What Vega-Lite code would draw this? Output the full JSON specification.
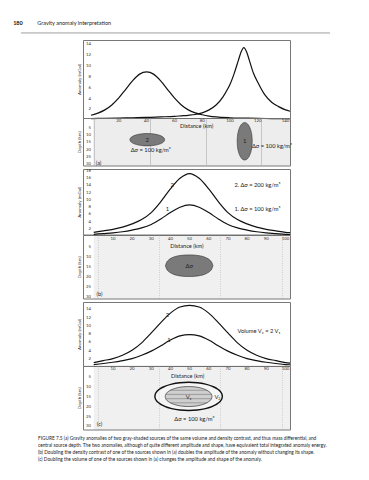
{
  "$schema": "https://vega.github.io/schema/vega-lite/v6.json",
  "padding": {"left": 12, "top": 20, "right": 5, "bottom": 5},
  "background": "white",
  "config": {
    "font": "Lato",
    "view": {"stroke": "#777", "strokeWidth": 1},
    "axis": {"labelFont": "Lato", "titleFont": "Lato", "titleColor": "#333", "titleFontSize": 4.5, "titleFontWeight": "normal", "domain": false, "ticks": false, "grid": false, "labels": false},
    "text": {"font": "Lato", "color": "#222"},
    "title": {"font": "Lato"}
  },
  "title": {
    "text": [
      "FIGURE 7.5  (a) Gravity anomalies of two gray-shaded sources of the same volume and density contrast, and thus mass differential, and",
      "central source depth. The two anomalies, although of quite different amplitude and shape, have equivalent total integrated anomaly energy.",
      "(b) Doubling the density contrast of one of the sources shown in (a) doubles the amplitude of the anomaly without changing its shape.",
      "(c) Doubling the volume of one of the sources shown in (a) changes the amplitude and shape of the anomaly."
    ],
    "orient": "bottom", "anchor": "start", "frame": "group", "fontSize": 4.75, "fontWeight": "normal", "color": "#222", "lineHeight": 7, "offset": 6, "dx": -45
  },
  "datasets": {
    "header": [
      {"x": -56, "y": 17.9, "text": "180", "part": "number"},
      {"x": -38.6, "y": 17.9, "text": "Gravity anomaly interpretation", "part": "title"}
    ],
    "headerRule": [{"x": -50.4, "x2": 172, "y": 16.1}],
    "ticksAnomA": [{"v": 2}, {"v": 4}, {"v": 6}, {"v": 8}, {"v": 10}, {"v": 12}, {"v": 14}],
    "ticksAnomB": [{"v": 2}, {"v": 4}, {"v": 6}, {"v": 8}, {"v": 10}, {"v": 12}, {"v": 14}, {"v": 16}, {"v": 18}],
    "ticksDepth": [{"v": 5}, {"v": 10}, {"v": 15}, {"v": 20}, {"v": 25}, {"v": 30}],
    "ticksDistA": [{"v": 20}, {"v": 40}, {"v": 60}, {"v": 80}, {"v": 100}, {"v": 120}, {"v": 140}],
    "ticksDistB": [{"v": 10}, {"v": 20}, {"v": 30}, {"v": 40}, {"v": 50}, {"v": 60}, {"v": 70}, {"v": 80}, {"v": 90}, {"v": 100}],
    "curvesA": [
      {"body": "1", "x": 0, "g": 0.3}, {"body": "1", "x": 10, "g": 0.35}, {"body": "1", "x": 20, "g": 0.4}, {"body": "1", "x": 30, "g": 0.45}, {"body": "1", "x": 40, "g": 0.5}, {"body": "1", "x": 50, "g": 0.6}, {"body": "1", "x": 60, "g": 0.7}, {"body": "1", "x": 65, "g": 0.8}, {"body": "1", "x": 70, "g": 0.9}, {"body": "1", "x": 75, "g": 1.05}, {"body": "1", "x": 80, "g": 1.35}, {"body": "1", "x": 85, "g": 1.9}, {"body": "1", "x": 90, "g": 2.8}, {"body": "1", "x": 95, "g": 4.3}, {"body": "1", "x": 98, "g": 5.6}, {"body": "1", "x": 100, "g": 6.6}, {"body": "1", "x": 103, "g": 8.6}, {"body": "1", "x": 106, "g": 11.0}, {"body": "1", "x": 108, "g": 12.6}, {"body": "1", "x": 110, "g": 13.4}, {"body": "1", "x": 112, "g": 12.6}, {"body": "1", "x": 114, "g": 11.0}, {"body": "1", "x": 117, "g": 8.6}, {"body": "1", "x": 120, "g": 7.0}, {"body": "1", "x": 125, "g": 4.7}, {"body": "1", "x": 130, "g": 3.3}, {"body": "1", "x": 135, "g": 2.5}, {"body": "1", "x": 140, "g": 1.9}, {"body": "1", "x": 143.2, "g": 1.65},
      {"body": "2", "x": 0, "g": 0.9}, {"body": "2", "x": 5, "g": 1.3}, {"body": "2", "x": 10, "g": 1.9}, {"body": "2", "x": 15, "g": 2.8}, {"body": "2", "x": 20, "g": 4.1}, {"body": "2", "x": 25, "g": 5.7}, {"body": "2", "x": 30, "g": 7.3}, {"body": "2", "x": 35, "g": 8.5}, {"body": "2", "x": 40, "g": 8.9}, {"body": "2", "x": 45, "g": 8.5}, {"body": "2", "x": 50, "g": 7.3}, {"body": "2", "x": 55, "g": 5.7}, {"body": "2", "x": 60, "g": 4.1}, {"body": "2", "x": 65, "g": 2.8}, {"body": "2", "x": 70, "g": 1.9}, {"body": "2", "x": 75, "g": 1.35}, {"body": "2", "x": 80, "g": 1.0}, {"body": "2", "x": 85, "g": 0.75}, {"body": "2", "x": 90, "g": 0.6}, {"body": "2", "x": 100, "g": 0.45}, {"body": "2", "x": 110, "g": 0.38}, {"body": "2", "x": 120, "g": 0.33}, {"body": "2", "x": 130, "g": 0.3}, {"body": "2", "x": 143.2, "g": 0.27}
    ],
    "curvesB": [
      {"body": "2", "x": 0, "g": 1.1}, {"body": "2", "x": 5, "g": 1.5}, {"body": "2", "x": 10, "g": 1.9}, {"body": "2", "x": 15, "g": 2.5}, {"body": "2", "x": 20, "g": 3.4}, {"body": "2", "x": 25, "g": 4.6}, {"body": "2", "x": 30, "g": 6.5}, {"body": "2", "x": 35, "g": 9.5}, {"body": "2", "x": 40, "g": 13.0}, {"body": "2", "x": 45, "g": 15.9}, {"body": "2", "x": 50, "g": 17.2}, {"body": "2", "x": 55, "g": 15.9}, {"body": "2", "x": 60, "g": 13.0}, {"body": "2", "x": 65, "g": 9.5}, {"body": "2", "x": 70, "g": 6.5}, {"body": "2", "x": 75, "g": 4.6}, {"body": "2", "x": 80, "g": 3.4}, {"body": "2", "x": 85, "g": 2.5}, {"body": "2", "x": 90, "g": 1.9}, {"body": "2", "x": 95, "g": 1.5}, {"body": "2", "x": 100, "g": 1.1}, {"body": "2", "x": 102.4, "g": 1.0},
      {"body": "1", "x": 0, "g": 0.55}, {"body": "1", "x": 5, "g": 0.75}, {"body": "1", "x": 10, "g": 0.95}, {"body": "1", "x": 15, "g": 1.25}, {"body": "1", "x": 20, "g": 1.7}, {"body": "1", "x": 25, "g": 2.3}, {"body": "1", "x": 30, "g": 3.25}, {"body": "1", "x": 35, "g": 4.75}, {"body": "1", "x": 40, "g": 6.5}, {"body": "1", "x": 45, "g": 7.95}, {"body": "1", "x": 50, "g": 8.6}, {"body": "1", "x": 55, "g": 7.95}, {"body": "1", "x": 60, "g": 6.5}, {"body": "1", "x": 65, "g": 4.75}, {"body": "1", "x": 70, "g": 3.25}, {"body": "1", "x": 75, "g": 2.3}, {"body": "1", "x": 80, "g": 1.7}, {"body": "1", "x": 85, "g": 1.25}, {"body": "1", "x": 90, "g": 0.95}, {"body": "1", "x": 95, "g": 0.75}, {"body": "1", "x": 100, "g": 0.55}, {"body": "1", "x": 102.4, "g": 0.5}
    ],
    "curvesC": [
      {"body": "2", "x": 0, "g": 1.1}, {"body": "2", "x": 5, "g": 1.6}, {"body": "2", "x": 10, "g": 2.1}, {"body": "2", "x": 15, "g": 2.9}, {"body": "2", "x": 20, "g": 4.1}, {"body": "2", "x": 25, "g": 5.9}, {"body": "2", "x": 30, "g": 8.3}, {"body": "2", "x": 35, "g": 10.8}, {"body": "2", "x": 40, "g": 13.1}, {"body": "2", "x": 45, "g": 14.6}, {"body": "2", "x": 50, "g": 15.0}, {"body": "2", "x": 55, "g": 14.6}, {"body": "2", "x": 60, "g": 13.1}, {"body": "2", "x": 65, "g": 10.8}, {"body": "2", "x": 70, "g": 8.3}, {"body": "2", "x": 75, "g": 5.9}, {"body": "2", "x": 80, "g": 4.1}, {"body": "2", "x": 85, "g": 2.9}, {"body": "2", "x": 90, "g": 2.1}, {"body": "2", "x": 95, "g": 1.6}, {"body": "2", "x": 100, "g": 1.1}, {"body": "2", "x": 102.4, "g": 1.0},
      {"body": "1", "x": 0, "g": 0.65}, {"body": "1", "x": 5, "g": 0.9}, {"body": "1", "x": 10, "g": 1.2}, {"body": "1", "x": 15, "g": 1.6}, {"body": "1", "x": 20, "g": 2.1}, {"body": "1", "x": 25, "g": 2.9}, {"body": "1", "x": 30, "g": 3.9}, {"body": "1", "x": 35, "g": 5.2}, {"body": "1", "x": 40, "g": 6.6}, {"body": "1", "x": 45, "g": 7.6}, {"body": "1", "x": 50, "g": 7.9}, {"body": "1", "x": 55, "g": 7.6}, {"body": "1", "x": 60, "g": 6.6}, {"body": "1", "x": 65, "g": 5.2}, {"body": "1", "x": 70, "g": 3.9}, {"body": "1", "x": 75, "g": 2.9}, {"body": "1", "x": 80, "g": 2.1}, {"body": "1", "x": 85, "g": 1.6}, {"body": "1", "x": 90, "g": 1.2}, {"body": "1", "x": 95, "g": 0.9}, {"body": "1", "x": 100, "g": 0.65}, {"body": "1", "x": 102.4, "g": 0.6}
    ],
    "bgA": [{"x": 1.5, "x2": 143.2, "y": -1.94, "y2": 31}],
    "bgB": [{"x": 0, "x2": 102.4, "y": -0.75, "y2": 31}],
    "bgC": [{"x": 0, "x2": 102.4, "y": -0.77, "y2": 31.6}],
    "bodiesA": [
      {"body": "1", "x": 105.2, "top": 14.2, "bottom": 14.2}, {"body": "1", "x": 105.25, "top": 12.5, "bottom": 15.9}, {"body": "1", "x": 105.38, "top": 10.83, "bottom": 17.57}, {"body": "1", "x": 105.92, "top": 7.7, "bottom": 20.7}, {"body": "1", "x": 106.78, "top": 5.01, "bottom": 23.39}, {"body": "1", "x": 107.9, "top": 2.94, "bottom": 25.46}, {"body": "1", "x": 109.2, "top": 1.64, "bottom": 26.76}, {"body": "1", "x": 110.6, "top": 1.2, "bottom": 27.2}, {"body": "1", "x": 112.0, "top": 1.64, "bottom": 26.76}, {"body": "1", "x": 113.3, "top": 2.94, "bottom": 25.46}, {"body": "1", "x": 114.42, "top": 5.01, "bottom": 23.39}, {"body": "1", "x": 115.28, "top": 7.7, "bottom": 20.7}, {"body": "1", "x": 115.82, "top": 10.83, "bottom": 17.57}, {"body": "1", "x": 115.95, "top": 12.5, "bottom": 15.9}, {"body": "1", "x": 116.0, "top": 14.2, "bottom": 14.2},
      {"body": "2", "x": 28, "top": 13.1, "bottom": 13.1}, {"body": "2", "x": 28.12, "top": 12.54, "bottom": 13.66}, {"body": "2", "x": 28.43, "top": 11.99, "bottom": 14.21}, {"body": "2", "x": 29.67, "top": 10.95, "bottom": 15.25}, {"body": "2", "x": 31.66, "top": 10.06, "bottom": 16.14}, {"body": "2", "x": 34.25, "top": 9.38, "bottom": 16.82}, {"body": "2", "x": 37.26, "top": 8.95, "bottom": 17.25}, {"body": "2", "x": 40.5, "top": 8.8, "bottom": 17.4}, {"body": "2", "x": 43.74, "top": 8.95, "bottom": 17.25}, {"body": "2", "x": 46.75, "top": 9.38, "bottom": 16.82}, {"body": "2", "x": 49.34, "top": 10.06, "bottom": 16.14}, {"body": "2", "x": 51.33, "top": 10.95, "bottom": 15.25}, {"body": "2", "x": 52.57, "top": 11.99, "bottom": 14.21}, {"body": "2", "x": 52.88, "top": 12.54, "bottom": 13.66}, {"body": "2", "x": 53, "top": 13.1, "bottom": 13.1}
    ],
    "bodyB": [
      {"x": 37.4, "top": 14.6, "bottom": 14.6}, {"x": 38, "top": 13.0, "bottom": 16.2}, {"x": 39, "top": 11.8, "bottom": 17.4}, {"x": 40.5, "top": 10.8, "bottom": 18.4}, {"x": 42.5, "top": 10.0, "bottom": 19.2}, {"x": 45, "top": 9.5, "bottom": 19.7}, {"x": 47.5, "top": 9.25, "bottom": 19.95}, {"x": 49.8, "top": 9.2, "bottom": 20.0}, {"x": 52, "top": 9.25, "bottom": 19.95}, {"x": 54.5, "top": 9.5, "bottom": 19.7}, {"x": 57, "top": 10.0, "bottom": 19.2}, {"x": 59, "top": 10.8, "bottom": 18.4}, {"x": 60.6, "top": 11.8, "bottom": 17.4}, {"x": 61.6, "top": 13.0, "bottom": 16.2}, {"x": 62.2, "top": 14.6, "bottom": 14.6}
    ],
    "bodiesC": [
      {"body": "V2", "x": 31.9, "top": 14.7, "bottom": 14.7}, {"body": "V2", "x": 32.06, "top": 13.76, "bottom": 15.64}, {"body": "V2", "x": 32.5, "top": 12.84, "bottom": 16.56}, {"body": "V2", "x": 34.26, "top": 11.1, "bottom": 18.3}, {"body": "V2", "x": 37.06, "top": 9.61, "bottom": 19.79}, {"body": "V2", "x": 40.7, "top": 8.46, "bottom": 20.94}, {"body": "V2", "x": 44.94, "top": 7.74, "bottom": 21.66}, {"body": "V2", "x": 49.5, "top": 7.5, "bottom": 21.9}, {"body": "V2", "x": 54.06, "top": 7.74, "bottom": 21.66}, {"body": "V2", "x": 58.3, "top": 8.46, "bottom": 20.94}, {"body": "V2", "x": 61.94, "top": 9.61, "bottom": 19.79}, {"body": "V2", "x": 64.74, "top": 11.1, "bottom": 18.3}, {"body": "V2", "x": 66.5, "top": 12.84, "bottom": 16.56}, {"body": "V2", "x": 66.94, "top": 13.76, "bottom": 15.64}, {"body": "V2", "x": 67.1, "top": 14.7, "bottom": 14.7},
      {"body": "V1", "x": 37.3, "top": 14.8, "bottom": 14.8}, {"body": "V1", "x": 37.41, "top": 14.13, "bottom": 15.47}, {"body": "V1", "x": 37.71, "top": 13.48, "bottom": 16.12}, {"body": "V1", "x": 38.93, "top": 12.25, "bottom": 17.35}, {"body": "V1", "x": 40.87, "top": 11.19, "bottom": 18.41}, {"body": "V1", "x": 43.4, "top": 10.38, "bottom": 19.22}, {"body": "V1", "x": 46.34, "top": 9.87, "bottom": 19.73}, {"body": "V1", "x": 49.5, "top": 9.7, "bottom": 19.9}, {"body": "V1", "x": 52.66, "top": 9.87, "bottom": 19.73}, {"body": "V1", "x": 55.6, "top": 10.38, "bottom": 19.22}, {"body": "V1", "x": 58.13, "top": 11.19, "bottom": 18.41}, {"body": "V1", "x": 60.07, "top": 12.25, "bottom": 17.35}, {"body": "V1", "x": 61.29, "top": 13.48, "bottom": 16.12}, {"body": "V1", "x": 61.59, "top": 14.13, "bottom": 15.47}, {"body": "V1", "x": 61.7, "top": 14.8, "bottom": 14.8}
    ],
    "hatchC": [
      {"x": 40, "x2": 59, "y": 11.6}, {"x": 37.6, "x2": 61.4, "y": 13.7}, {"x": 37.6, "x2": 61.4, "y": 15.9}, {"x": 40, "x2": 59, "y": 18.0}
    ],
    "anomLabelsB": [
      {"x": 40.9, "y": 14.0, "text": "2", "kind": "num"},
      {"x": 38.5, "y": 7.4, "text": "1", "kind": "num"},
      {"x": 85.4, "y": 14.0, "text": "2.  Δσ = 200 kg/m³", "kind": "note"},
      {"x": 85.4, "y": 7.5, "text": "1.  Δσ = 100 kg/m³", "kind": "note"}
    ],
    "anomLabelsC": [
      {"x": 38.4, "y": 12.6, "text": "2", "kind": "num"},
      {"x": 39.3, "y": 6.7, "text": "1", "kind": "num"},
      {"x": 86.2, "y": 8.75, "text": "Volume V₂ = 2 V₁", "kind": "note"}
    ],
    "depthLabelsA": [
      {"x": 76, "y": 3.9, "text": "Distance (km)", "kind": "axis"},
      {"x": 40.5, "y": 13.3, "text": "2", "kind": "big"},
      {"x": 110.6, "y": 14.2, "text": "1", "kind": "big"},
      {"x": 43, "y": 20.2, "text": "Δσ = 100 kg/m³", "kind": "note"},
      {"x": 130.2, "y": 17.4, "text": "Δσ = 100 kg/m³", "kind": "note"},
      {"x": 5.4, "y": 29, "text": "(a)", "kind": "panel"}
    ],
    "depthLabelsB": [
      {"x": 48.6, "y": 4.5, "text": "Distance (km)", "kind": "axis"},
      {"x": 49.8, "y": 14.8, "text": "Δσ", "kind": "num"},
      {"x": 3.0, "y": 28.8, "text": "(b)", "kind": "panel"}
    ],
    "depthLabelsC": [
      {"x": 49, "y": 4.1, "text": "Distance (km)", "kind": "axis"},
      {"x": 49.5, "y": 15.2, "text": "V₁", "kind": "num"},
      {"x": 64.5, "y": 14.8, "text": "V₂", "kind": "num"},
      {"x": 52.5, "y": 26.5, "text": "Δσ = 100 kg/m³", "kind": "note"},
      {"x": 3.0, "y": 29.0, "text": "(c)", "kind": "panel"}
    ]
  },
  "spacing": 1,
  "vconcat": [
    {
      "spacing": 0,
      "bounds": "flush",
      "vconcat": [
        {
          "width": 207, "height": 78,
          "layer": [
            {
              "data": {"name": "curvesA"},
              "mark": {"type": "line", "color": "#111", "strokeWidth": 1.2, "interpolate": "monotone"},
              "encoding": {
                "x": {"field": "x", "type": "quantitative", "scale": {"domain": [-5.75, 143.2], "nice": false, "zero": false}, "axis": null},
                "y": {"field": "g", "type": "quantitative", "scale": {"domain": [0.4, 14.8], "nice": false, "zero": false},
                      "axis": {"title": "Anomaly (mGal)", "values": [2, 4, 6, 8, 10, 12, 14], "titleX": -4, "titleY": 39, "titleAngle": 270, "titleAlign": "center", "titleBaseline": "middle"}},
                "detail": {"field": "body", "type": "nominal"}
              }
            },
            {
              "data": {"name": "ticksAnomA"},
              "mark": {"type": "text", "align": "right", "baseline": "middle", "fontSize": 4.3, "color": "#333"},
              "encoding": {"x": {"datum": 0}, "y": {"field": "v", "type": "quantitative"}, "text": {"field": "v", "type": "quantitative"}}
            },
            {
              "data": {"name": "headerRule"},
              "mark": {"type": "rule", "color": "#888", "strokeWidth": 0.8},
              "encoding": {"x": {"field": "x", "type": "quantitative"}, "x2": {"field": "x2"}, "y": {"field": "y", "type": "quantitative"}}
            },
            {
              "data": {"name": "header"},
              "transform": [{"filter": "datum.part == 'number'"}],
              "mark": {"type": "text", "align": "left", "baseline": "middle", "fontSize": 5.5, "fontWeight": "bold", "color": "#111"},
              "encoding": {"x": {"field": "x", "type": "quantitative"}, "y": {"field": "y", "type": "quantitative"}, "text": {"field": "text"}}
            },
            {
              "data": {"name": "header"},
              "transform": [{"filter": "datum.part == 'title'"}],
              "mark": {"type": "text", "align": "left", "baseline": "middle", "fontSize": 5.5, "color": "#222"},
              "encoding": {"x": {"field": "x", "type": "quantitative"}, "y": {"field": "y", "type": "quantitative"}, "text": {"field": "text"}}
            }
          ]
        },
        {
          "width": 207, "height": 47.5,
          "layer": [
            {
              "data": {"name": "bgA"},
              "mark": {"type": "rect", "fill": "#000", "fillOpacity": 0.07},
              "encoding": {
                "x": {"field": "x", "type": "quantitative", "scale": {"domain": [-5.75, 143.2], "nice": false, "zero": false},
                      "axis": {"orient": "top", "title": null, "values": [2.5,5,7.5,10,12.5,15,17.5,20,22.5,25,27.5,30,32.5,35,37.5,40,42.5,45,47.5,50,52.5,55,57.5,60,62.5,65,67.5,70,72.5,75,77.5,80,82.5,85,87.5,90,92.5,95,97.5,100,102.5,105,107.5,110,112.5,115,117.5,120,122.5,125,127.5,130,132.5,135,137.5,140,142.5],
                               "grid": true, "gridColor": "#bbb", "gridWidth": 0.6}},
                "x2": {"field": "x2"},
                "y": {"field": "y", "type": "quantitative", "scale": {"domain": [-1.94, 31], "nice": false, "zero": false, "reverse": true},
                      "axis": {"title": "Depth (km)", "values": [5, 10, 15, 20, 25, 30], "titleX": -4, "titleY": 23.75, "titleAngle": 270, "titleAlign": "center", "titleBaseline": "middle"}},
                "y2": {"field": "y2"}
              }
            },
            {
              "data": {"name": "bodiesA"},
              "mark": {"type": "area", "interpolate": "monotone", "fill": "#7a7a7a", "stroke": "#333", "strokeWidth": 0.6},
              "encoding": {"x": {"field": "x", "type": "quantitative"}, "y": {"field": "top", "type": "quantitative"}, "y2": {"field": "bottom"}, "detail": {"field": "body", "type": "nominal"}}
            },
            {
              "data": {"name": "ticksDepth"},
              "mark": {"type": "text", "align": "right", "baseline": "middle", "fontSize": 4.3, "color": "#333"},
              "encoding": {"x": {"datum": 0}, "y": {"field": "v", "type": "quantitative"}, "text": {"field": "v", "type": "quantitative"}}
            },
            {
              "data": {"name": "ticksDistA"},
              "mark": {"type": "text", "align": "center", "baseline": "middle", "fontSize": 4.3, "color": "#333"},
              "encoding": {"x": {"field": "v", "type": "quantitative"}, "y": {"datum": 0.1}, "text": {"field": "v", "type": "quantitative"}}
            },
            {
              "data": {"name": "depthLabelsA"},
              "mark": {"type": "text", "align": "center", "baseline": "middle"},
              "encoding": {"x": {"field": "x", "type": "quantitative"}, "y": {"field": "y", "type": "quantitative"}, "text": {"field": "text"},
                           "size": {"field": "kind", "type": "nominal", "scale": {"domain": ["big", "num", "note", "axis", "panel"], "range": [6, 5.5, 4.0, 3.9, 5]}, "legend": null}}
            }
          ]
        }
      ]
    },
    {
      "spacing": 0,
      "bounds": "flush",
      "vconcat": [
        {
          "width": 207, "height": 65.5,
          "layer": [
            {
              "data": {"name": "curvesB"},
              "mark": {"type": "line", "color": "#111", "strokeWidth": 1.2, "interpolate": "monotone"},
              "encoding": {
                "x": {"field": "x", "type": "quantitative", "scale": {"domain": [-5.6, 102.4], "nice": false, "zero": false}, "axis": null},
                "y": {"field": "g", "type": "quantitative", "scale": {"domain": [0.5, 18.44], "nice": false, "zero": false},
                      "axis": {"title": "Anomaly (mGal)", "values": [2, 4, 6, 8, 10, 12, 14, 16, 18], "titleX": -4, "titleY": 32.75, "titleAngle": 270, "titleAlign": "center", "titleBaseline": "middle"}},
                "detail": {"field": "body", "type": "nominal"}
              }
            },
            {
              "data": {"name": "ticksAnomB"},
              "mark": {"type": "text", "align": "right", "baseline": "middle", "fontSize": 4.3, "color": "#333"},
              "encoding": {"x": {"datum": -1.4}, "y": {"field": "v", "type": "quantitative"}, "text": {"field": "v", "type": "quantitative"}}
            },
            {
              "data": {"name": "anomLabelsB"},
              "mark": {"type": "text", "align": "center", "baseline": "middle"},
              "encoding": {"x": {"field": "x", "type": "quantitative"}, "y": {"field": "y", "type": "quantitative"}, "text": {"field": "text"},
                           "size": {"field": "kind", "type": "nominal", "scale": {"domain": ["big", "num", "note", "axis", "panel"], "range": [6, 5.5, 4.0, 3.9, 5]}, "legend": null}}
            }
          ]
        },
        {
          "width": 207, "height": 63.5,
          "layer": [
            {
              "data": {"name": "bgB"},
              "mark": {"type": "rect", "fill": "#000", "fillOpacity": 0.06},
              "encoding": {
                "x": {"field": "x", "type": "quantitative", "scale": {"domain": [-5.6, 102.4], "nice": false, "zero": false},
                      "axis": {"orient": "top", "title": null, "values": [2,4,6,8,10,12,14,16,18,20,22,24,26,28,30,32,34,36,38,40,42,44,46,48,50,52,54,56,58,60,62,64,66,68,70,72,74,76,78,80,82,84,86,88,90,92,94,96,98,100,102],
                               "grid": true, "gridColor": "#aaa", "gridWidth": 0.6, "gridDash": [0.7, 1.6]}},
                "x2": {"field": "x2"},
                "y": {"field": "y", "type": "quantitative", "scale": {"domain": [-0.75, 31], "nice": false, "zero": false, "reverse": true},
                      "axis": {"title": "Depth (km)", "values": [5, 10, 15, 20, 25, 30], "titleX": -4, "titleY": 31.75, "titleAngle": 270, "titleAlign": "center", "titleBaseline": "middle"}},
                "y2": {"field": "y2"}
              }
            },
            {
              "data": {"name": "bodyB"},
              "mark": {"type": "area", "interpolate": "monotone", "fill": "#7a7a7a", "stroke": "#333", "strokeWidth": 0.6},
              "encoding": {"x": {"field": "x", "type": "quantitative"}, "y": {"field": "top", "type": "quantitative"}, "y2": {"field": "bottom"}}
            },
            {
              "data": {"name": "ticksDepth"},
              "mark": {"type": "text", "align": "right", "baseline": "middle", "fontSize": 4.3, "color": "#333"},
              "encoding": {"x": {"datum": -1.4}, "y": {"field": "v", "type": "quantitative"}, "text": {"field": "v", "type": "quantitative"}}
            },
            {
              "data": {"name": "ticksDistB"},
              "mark": {"type": "text", "align": "center", "baseline": "middle", "fontSize": 4.3, "color": "#333"},
              "encoding": {"x": {"field": "v", "type": "quantitative"}, "y": {"datum": 1.3}, "text": {"field": "v", "type": "quantitative"}}
            },
            {
              "data": {"name": "depthLabelsB"},
              "mark": {"type": "text", "align": "center", "baseline": "middle"},
              "encoding": {"x": {"field": "x", "type": "quantitative"}, "y": {"field": "y", "type": "quantitative"}, "text": {"field": "text"},
                           "size": {"field": "kind", "type": "nominal", "scale": {"domain": ["big", "num", "note", "axis", "panel"], "range": [6, 5.5, 4.0, 3.9, 5]}, "legend": null}}
            }
          ]
        }
      ]
    },
    {
      "spacing": 0,
      "bounds": "flush",
      "vconcat": [
        {
          "width": 207, "height": 63.9,
          "layer": [
            {
              "data": {"name": "curvesC"},
              "mark": {"type": "line", "color": "#111", "strokeWidth": 1.2, "interpolate": "monotone"},
              "encoding": {
                "x": {"field": "x", "type": "quantitative", "scale": {"domain": [-5.6, 102.4], "nice": false, "zero": false}, "axis": null},
                "y": {"field": "g", "type": "quantitative", "scale": {"domain": [0.32, 15.8], "nice": false, "zero": false},
                      "axis": {"title": "Anomaly (mGal)", "values": [2, 4, 6, 8, 10, 12, 14], "titleX": -4, "titleY": 32, "titleAngle": 270, "titleAlign": "center", "titleBaseline": "middle"}},
                "detail": {"field": "body", "type": "nominal"}
              }
            },
            {
              "data": {"name": "ticksAnomA"},
              "mark": {"type": "text", "align": "right", "baseline": "middle", "fontSize": 4.3, "color": "#333"},
              "encoding": {"x": {"datum": -1.4}, "y": {"field": "v", "type": "quantitative"}, "text": {"field": "v", "type": "quantitative"}}
            },
            {
              "data": {"name": "anomLabelsC"},
              "mark": {"type": "text", "align": "center", "baseline": "middle"},
              "encoding": {"x": {"field": "x", "type": "quantitative"}, "y": {"field": "y", "type": "quantitative"}, "text": {"field": "text"},
                           "size": {"field": "kind", "type": "nominal", "scale": {"domain": ["big", "num", "note", "axis", "panel"], "range": [6, 5.5, 4.0, 3.9, 5]}, "legend": null}}
            }
          ]
        },
        {
          "width": 207, "height": 63.5,
          "layer": [
            {
              "data": {"name": "bgC"},
              "mark": {"type": "rect", "fill": "#000", "fillOpacity": 0.06},
              "encoding": {
                "x": {"field": "x", "type": "quantitative", "scale": {"domain": [-5.6, 102.4], "nice": false, "zero": false},
                      "axis": {"orient": "top", "title": null, "values": [2,4,6,8,10,12,14,16,18,20,22,24,26,28,30,32,34,36,38,40,42,44,46,48,50,52,54,56,58,60,62,64,66,68,70,72,74,76,78,80,82,84,86,88,90,92,94,96,98,100,102],
                               "grid": true, "gridColor": "#aaa", "gridWidth": 0.6, "gridDash": [0.7, 1.6]}},
                "x2": {"field": "x2"},
                "y": {"field": "y", "type": "quantitative", "scale": {"domain": [-0.77, 31.6], "nice": false, "zero": false, "reverse": true},
                      "axis": {"title": "Depth (km)", "values": [5, 10, 15, 20, 25, 30], "titleX": -4, "titleY": 31.75, "titleAngle": 270, "titleAlign": "center", "titleBaseline": "middle"}},
                "y2": {"field": "y2"}
              }
            },
            {
              "data": {"name": "bodiesC"},
              "transform": [{"filter": "datum.body == 'V2'"}],
              "mark": {"type": "area", "interpolate": "monotone", "fill": "#ffffff", "fillOpacity": 0.35, "stroke": "#111", "strokeWidth": 1.4},
              "encoding": {"x": {"field": "x", "type": "quantitative"}, "y": {"field": "top", "type": "quantitative"}, "y2": {"field": "bottom"}}
            },
            {
              "data": {"name": "bodiesC"},
              "transform": [{"filter": "datum.body == 'V1'"}],
              "mark": {"type": "area", "interpolate": "monotone", "fill": "#cfcfcf", "stroke": "#333", "strokeWidth": 0.7},
              "encoding": {"x": {"field": "x", "type": "quantitative"}, "y": {"field": "top", "type": "quantitative"}, "y2": {"field": "bottom"}}
            },
            {
              "data": {"name": "hatchC"},
              "mark": {"type": "rule", "color": "#666", "strokeWidth": 0.5},
              "encoding": {"x": {"field": "x", "type": "quantitative"}, "x2": {"field": "x2"}, "y": {"field": "y", "type": "quantitative"}}
            },
            {
              "data": {"name": "ticksDepth"},
              "mark": {"type": "text", "align": "right", "baseline": "middle", "fontSize": 4.3, "color": "#333"},
              "encoding": {"x": {"datum": -1.4}, "y": {"field": "v", "type": "quantitative"}, "text": {"field": "v", "type": "quantitative"}}
            },
            {
              "data": {"name": "ticksDistB"},
              "mark": {"type": "text", "align": "center", "baseline": "middle", "fontSize": 4.3, "color": "#333"},
              "encoding": {"x": {"field": "v", "type": "quantitative"}, "y": {"datum": 0.9}, "text": {"field": "v", "type": "quantitative"}}
            },
            {
              "data": {"name": "depthLabelsC"},
              "mark": {"type": "text", "align": "center", "baseline": "middle"},
              "encoding": {"x": {"field": "x", "type": "quantitative"}, "y": {"field": "y", "type": "quantitative"}, "text": {"field": "text"},
                           "size": {"field": "kind", "type": "nominal", "scale": {"domain": ["big", "num", "note", "axis", "panel"], "range": [6, 5.5, 4.0, 3.9, 5]}, "legend": null}}
            }
          ]
        }
      ]
    }
  ]
}
